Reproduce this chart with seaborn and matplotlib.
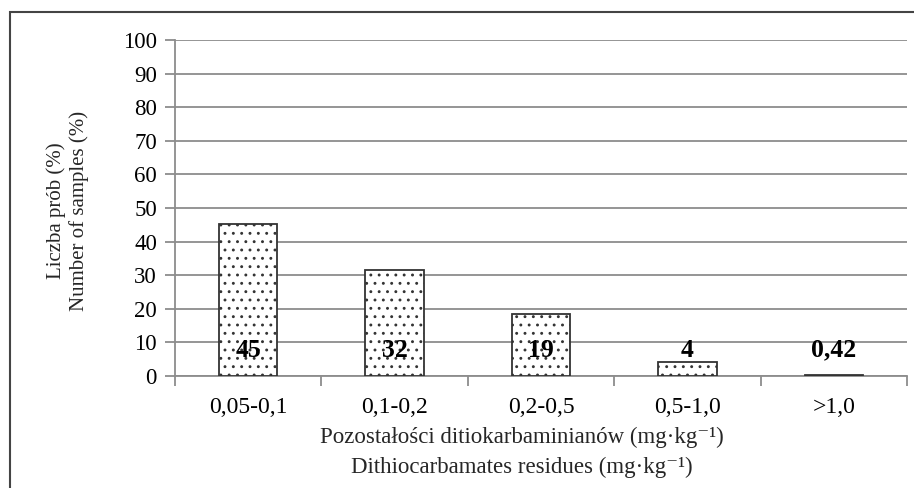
import matplotlib
matplotlib.use("Agg")
import matplotlib.pyplot as plt
import seaborn as sns
import pandas as pd
from matplotlib.patches import Rectangle

categories = ["0,05-0,1", "0,1-0,2", "0,2-0,5", "0,5-1,0", ">1,0"]
heights = [45.3, 31.5, 18.5, 4.3, 0.42]
value_labels = ["45", "32", "19", "4", "0,42"]
y_ticks = list(range(0, 101, 10))

sns.set_theme(style="white")
plt.rcParams["font.family"] = ["Liberation Serif", "DejaVu Serif"]
plt.rcParams["hatch.linewidth"] = 0.9

fig = plt.figure(figsize=(9.14, 4.88), dpi=100)
ax = fig.add_axes([175/914, 1-376/488, 732/914, 336/488])

df = pd.DataFrame({"cat": categories, "val": heights})
sns.barplot(data=df, x="cat", y="val", color="white", width=0.4,
            edgecolor="#333333", linewidth=1.3, ax=ax, zorder=3)
for p in ax.patches:
    p.set_hatch("..")
    p.set_facecolor("white")
    p.set_edgecolor("#333333")

ax.set_ylim(0, 100)
ax.set_xlim(-0.5, len(categories) - 0.5)
ax.set_yticks(y_ticks)
ax.yaxis.grid(True, color="#8c8c8c", linewidth=1.3, zorder=0)
ax.xaxis.grid(False)
ax.set_axisbelow(True)

for s in ["top", "right"]:
    ax.spines[s].set_visible(False)
for s in ["left", "bottom"]:
    ax.spines[s].set_color("#8c8c8c")
    ax.spines[s].set_linewidth(1.3)

ax.tick_params(axis="y", which="major", direction="out", length=7, width=1.3,
               color="#8c8c8c", labelsize=16.5, labelcolor="black", left=True, pad=6)
ax.set_xticks(range(len(categories)))
ax.set_xticklabels(categories)
ax.set_xticks([i - 0.5 for i in range(len(categories) + 1)], minor=True)
ax.tick_params(axis="x", which="major", length=0, labelsize=17, labelcolor="black", pad=15)
ax.tick_params(axis="x", which="minor", direction="out", length=7, width=1.3,
               color="#8c8c8c", bottom=True)

for i, lab in enumerate(value_labels):
    ax.text(i, 7.7, lab, ha="center", va="center", fontsize=18.5,
            fontweight="bold", color="black", zorder=5)

ax.set_xlabel("")
ax.set_ylabel("")

fig.text(56/914, 1-211/488, "Liczba prób (%)", rotation=90, ha="center", va="center", fontsize=15)
fig.text(79/914, 1-211/488, "Number of samples (%)", rotation=90, ha="center", va="center", fontsize=15)
fig.text(522/914, 1-437/488, "Pozostałości ditiokarbaminianów (mg·kg⁻¹)", ha="center", va="center", fontsize=16.5)
fig.text(522/914, 1-467/488, "Dithiocarbamates residues (mg·kg⁻¹)", ha="center", va="center", fontsize=16.5)

fig.add_artist(Rectangle((10/914, -0.05), 1.1, 1.05 - 12/488, transform=fig.transFigure,
                         fill=False, edgecolor="#444444", linewidth=1.5))

fig.savefig("out.png", dpi=100)
